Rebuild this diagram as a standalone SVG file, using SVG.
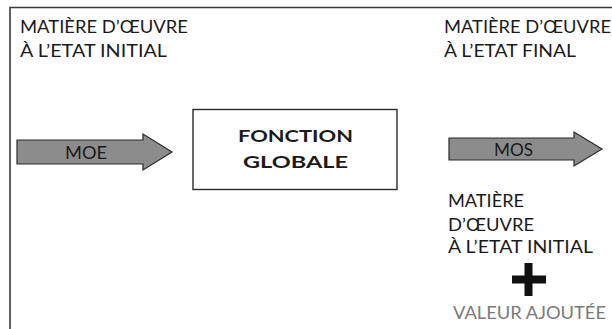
<svg xmlns="http://www.w3.org/2000/svg" width="612" height="329" viewBox="0 0 612 329">
<style>
.t{font-family:Lato,"Open Sans","Liberation Sans",sans-serif;font-size:17px;fill:#1a1a1a}
.b{font-weight:bold;font-size:17.5px;text-anchor:middle}
.arrow{fill:#8c8c8c;stroke:#2a2a2a;stroke-width:1.2}
.lbl{font-size:16.5px;text-anchor:middle}
.g{fill:#7a7a7a}
</style>
<rect width="612" height="329" fill="#fff"/>
<path d="M10,335 V7.5 H620" fill="none" stroke="#3a3a3a" stroke-width="1.6"/>
<g id="moe-initial-label">
<text class="t" x="20" y="33" textLength="168" lengthAdjust="spacingAndGlyphs">MATIÈRE D’ŒUVRE</text>
<text class="t" x="20" y="57" textLength="147" lengthAdjust="spacingAndGlyphs">À L’ETAT INITIAL</text>
</g>
<g id="mos-final-label">
<text class="t" x="444" y="33" textLength="167" lengthAdjust="spacingAndGlyphs">MATIÈRE D’ŒUVRE</text>
<text class="t" x="444" y="57" textLength="132" lengthAdjust="spacingAndGlyphs">À L’ETAT FINAL</text>
</g>
<g id="fonction-globale">
<rect x="193" y="109.5" width="204" height="80" fill="#fff" stroke="#2a2a2a" stroke-width="1.4"/>
<text class="t b" x="295.5" y="142" textLength="115" lengthAdjust="spacingAndGlyphs">FONCTION</text>
<text class="t b" x="295.5" y="168" textLength="105" lengthAdjust="spacingAndGlyphs">GLOBALE</text>
</g>
<g id="connectors">
<g id="moe-arrow">
<polygon class="arrow" points="17,140 143,140 143,134 172,152 143,170 143,164 17,164"/>
<text class="t lbl" x="86" y="159" textLength="42" lengthAdjust="spacingAndGlyphs">MOE</text>
</g>
<g id="mos-arrow">
<polygon class="arrow" points="449,138 574,138 574,132 602,149 574,166 574,160 449,160"/>
<text class="t lbl" x="513.5" y="156" textLength="39" lengthAdjust="spacingAndGlyphs">MOS</text>
</g>
</g>
<g id="result">
<text class="t" x="448" y="207" textLength="76" lengthAdjust="spacingAndGlyphs">MATIÈRE</text>
<text class="t" x="448" y="231" textLength="86" lengthAdjust="spacingAndGlyphs">D’ŒUVRE</text>
<text class="t" x="448" y="253" textLength="145" lengthAdjust="spacingAndGlyphs">À L’ETAT INITIAL</text>
<path d="M512,279.5 H546 M528.5,263 V296" stroke="#111" stroke-width="8" fill="none"/>
<text class="t g" x="453" y="319" textLength="153" lengthAdjust="spacingAndGlyphs">VALEUR AJOUTÉE</text>
</g>
</svg>
